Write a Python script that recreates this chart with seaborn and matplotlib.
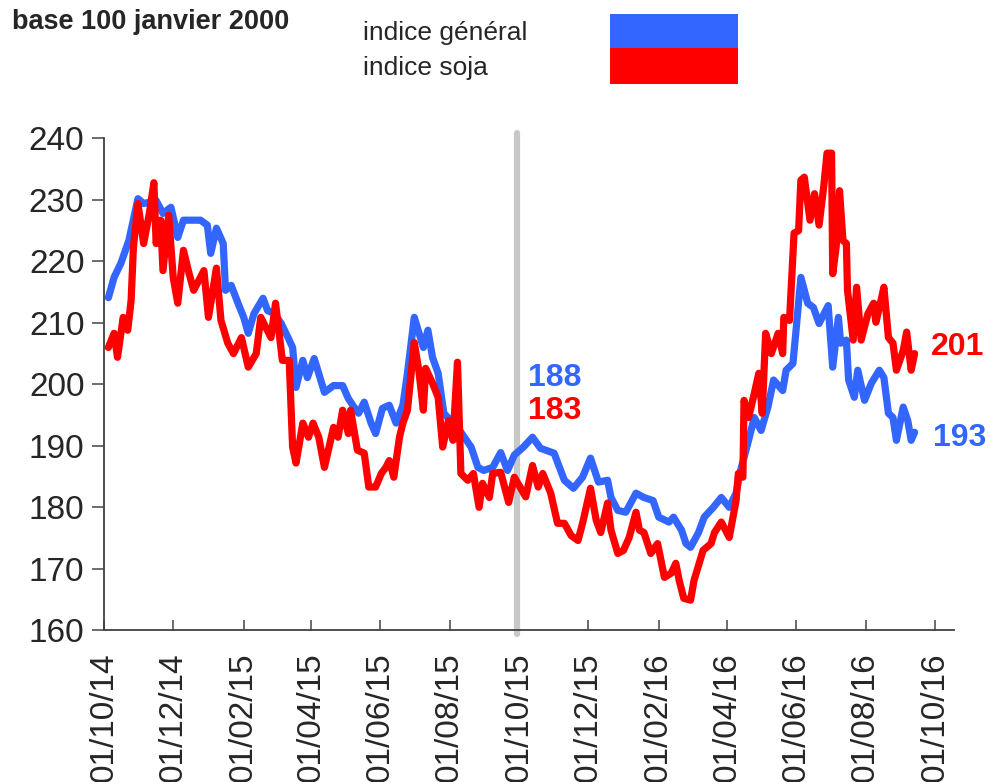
import pandas as pd
import numpy as np
import matplotlib
matplotlib.use("Agg")
import matplotlib.pyplot as plt
import matplotlib.dates as mdates
import seaborn as sns

# Données (jours depuis le 01/10/2014)
debut = "2014-10-01"

jours_general = [4, 9, 15, 22, 30, 35, 46, 52, 59, 65, 70, 85, 91, 94, 99, 105, 107, 112, 118, 123,
                 127, 132, 140, 144, 150, 156, 162, 166, 169, 175, 179, 185, 194, 202, 210, 215, 220, 224, 229, 235,
                 239, 245, 251, 257, 263, 267, 273, 281, 285, 289, 294, 299, 305, 311, 317, 323, 329, 334, 342, 349,
                 355, 361, 369, 377, 384, 396, 405, 413, 421, 428, 435, 443, 446, 452, 459, 468, 475, 483, 488, 497,
                 501, 508, 512, 516, 523, 528, 536, 543, 550, 556, 560, 567, 572, 578, 584, 589, 597, 600, 606, 609,
                 613, 619, 624, 629, 637, 641, 646, 648, 653, 655, 660, 663, 669, 675, 682, 686, 690, 694, 697, 703,
                 707, 710, 713]
indice_general = [214.1, 217.4, 219.7, 223.4, 230.2, 229.4, 229.9, 227.8, 228.8, 223.9, 226.7, 226.7, 225.9, 221.3,
                  225.4, 222.9, 215.3, 216.1, 213.2, 210.9, 208.3, 211.5, 214.0, 212.0, 211.5, 209.9, 207.6, 206.0,
                  199.5, 203.9, 201.1, 204.2, 198.7, 199.8, 199.8, 197.7, 196.3, 195.3, 197.1, 193.7, 192.0, 196.1,
                  196.6, 193.7, 196.6, 201.8, 210.9, 206.0, 208.8, 204.4, 201.8, 195.3, 194.1, 193.0, 191.4, 189.8,
                  186.5, 186.0, 186.5, 188.9, 186.0, 188.5, 189.8, 191.4, 189.6, 188.8, 184.4, 183.1, 184.9, 188.0,
                  184.1, 184.4, 181.6, 179.5, 179.2, 182.3, 181.6, 181.1, 178.4, 177.6, 178.4, 176.3, 174.1, 173.5,
                  175.9, 178.4, 180.0, 181.6, 180.0, 182.3, 186.0, 190.9, 194.6, 192.5, 196.3, 200.7, 199.0, 202.3,
                  203.4, 209.3, 217.4, 213.2, 212.5, 209.9, 212.8, 202.8, 210.9, 206.7, 207.2, 200.7, 197.9, 202.3,
                  197.4, 200.2, 202.3, 201.1, 195.3, 194.6, 190.9, 196.3, 194.1, 190.9, 192.2]

jours_soja = [4, 9, 12, 17, 21, 24, 26, 30, 35, 40, 44, 46, 50, 52, 57, 61, 65, 70, 75, 79,
              88, 92, 99, 103, 109, 114, 121, 127, 134, 138, 147, 151, 157, 163, 166, 169, 175, 180, 184, 189,
              194, 202, 206, 210, 215, 217, 223, 229, 233, 239, 244, 248, 251, 255, 260, 263, 267, 273, 277, 281,
              283, 289, 294, 298, 303, 307, 311, 314, 320, 325, 330, 333, 339, 342, 349, 356, 361, 371, 377, 382,
              386, 393, 399, 405, 411, 417, 421, 428, 433, 437, 443, 446, 452, 457, 462, 468, 471, 475, 481, 487,
              493, 499, 503, 506, 510, 516, 519, 527, 534, 537, 543, 550, 556, 558, 562, 563, 567, 572, 576, 579,
              582, 587, 593, 597, 598, 603, 607, 611, 613, 616, 621, 625, 629, 633, 636, 640, 641, 644, 647, 650,
              653, 654, 659, 662, 666, 672, 677, 679, 684, 686, 690, 694, 697, 703, 706, 710, 713]
indice_soja = [206.0, 208.3, 204.4, 210.9, 208.8, 213.7, 222.3, 229.4, 222.9, 227.8, 232.8, 222.9, 226.7, 218.5,
               227.5, 217.4, 213.2, 221.8, 218.0, 215.3, 218.5, 210.9, 218.9, 210.4, 206.7, 205.0, 207.6, 202.8,
               205.0, 210.9, 207.6, 213.2, 203.9, 203.9, 189.8, 187.2, 193.7, 191.4, 193.7, 191.4, 186.5, 193.0,
               191.4, 195.8, 192.0, 195.8, 189.3, 188.8, 183.3, 183.3, 185.5, 186.5, 187.6, 184.9, 191.4, 193.7,
               195.8, 206.8, 202.3, 195.8, 202.6, 200.2, 197.9, 189.8, 194.1, 190.9, 203.6, 185.5, 184.4, 185.5,
               180.0, 183.9, 181.6, 185.5, 185.7, 180.8, 184.9, 181.7, 186.8, 183.3, 185.5, 182.3, 177.4, 177.4,
               175.4, 174.6, 177.4, 183.1, 177.9, 175.9, 180.7, 176.3, 172.5, 173.0, 175.1, 179.2, 176.3, 175.9,
               172.5, 174.1, 168.6, 169.3, 170.9, 168.1, 165.2, 164.9, 168.1, 173.0, 174.1, 175.9, 177.6, 175.1,
               181.1, 185.5, 184.9, 197.4, 194.6, 198.5, 201.8, 195.3, 208.3, 205.0, 208.3, 205.0, 210.9, 210.4,
               224.6, 225.0, 233.2, 233.7, 226.7, 231.0, 225.9, 232.0, 237.6, 237.6, 218.0, 222.3, 231.5, 223.4,
               222.9, 215.3, 207.2, 215.8, 207.2, 211.5, 213.2, 210.1, 214.1, 215.8, 207.6, 206.7, 202.3, 205.5,
               208.5, 202.3, 205.0]

# valeurs affichées
valeur_oct15 = {"général": "188", "soja": "183"}
valeur_fin = {"général": "193", "soja": "201"}

BLEU = "#3366FF"
ROUGE = "#FF0000"

t0 = pd.Timestamp(debut)
df_gen = pd.DataFrame({"date": t0 + pd.to_timedelta(jours_general, unit="D"), "indice": indice_general})
df_soja = pd.DataFrame({"date": t0 + pd.to_timedelta(jours_soja, unit="D"), "indice": indice_soja})

sns.set_style("ticks")
plt.rcParams["font.family"] = ["Liberation Sans", "DejaVu Sans"]

fig = plt.figure(figsize=(9.89, 7.82), dpi=100)
ax = fig.add_axes([0.105, 0.194, 0.86, 0.629])

sns.lineplot(data=df_gen, x="date", y="indice", color=BLEU, linewidth=5.2, ax=ax, zorder=3)
sns.lineplot(data=df_soja, x="date", y="indice", color=ROUGE, linewidth=5.2, ax=ax, zorder=4)

# ligne verticale octobre 2015
ax.axvline(pd.Timestamp("2015-09-29"), ymin=-0.008, ymax=1.01, color="#C8C8C8", linewidth=4.5, zorder=2, clip_on=False)

ax.set_ylim(160, 240)
ax.set_yticks(range(160, 241, 10))
ax.set_xlim(t0, pd.Timestamp("2016-10-18"))
ax.xaxis.set_major_locator(mdates.MonthLocator(bymonth=[2, 4, 6, 8, 10, 12], bymonthday=1))
ax.xaxis.set_major_formatter(mdates.DateFormatter("%d/%m/%y"))

ax.set_xlabel("")
ax.set_ylabel("")
sns.despine(ax=ax)
for s in ["left", "bottom"]:
    ax.spines[s].set_color("#404040")
    ax.spines[s].set_linewidth(1.3)

ax.tick_params(axis="y", direction="out", length=9, width=1.3, color="#606060", labelsize=24, pad=5)
ax.tick_params(axis="x", direction="in", length=7, width=1.3, color="#606060", labelsize=24, pad=16,
               labelrotation=90)

# étiquettes de valeurs
ax.text(pd.Timestamp("2015-10-09"), 201.0, valeur_oct15["général"], color=BLEU, fontsize=23,
        fontweight="bold", va="center", ha="left")
ax.text(pd.Timestamp("2015-10-09"), 195.6, valeur_oct15["soja"], color=ROUGE, fontsize=23,
        fontweight="bold", va="center", ha="left")
ax.text(pd.Timestamp("2016-09-27"), 206.0, valeur_fin["soja"], color=ROUGE, fontsize=23,
        fontweight="bold", va="center", ha="left", clip_on=False)
ax.text(pd.Timestamp("2016-09-29"), 191.2, valeur_fin["général"], color=BLEU, fontsize=23,
        fontweight="bold", va="center", ha="left", clip_on=False)

# titre et légende
fig.text(0.012, 0.972, "base 100 janvier 2000", fontsize=19.5, fontweight="bold", va="center", ha="left")
fig.text(0.367, 0.958, "indice général", fontsize=19, va="center", ha="left")
fig.text(0.367, 0.913, "indice soja", fontsize=19, va="center", ha="left")
fig.patches.append(plt.Rectangle((0.617, 0.937), 0.129, 0.045, transform=fig.transFigure,
                                 facecolor=BLEU, edgecolor="none"))
fig.patches.append(plt.Rectangle((0.617, 0.893), 0.129, 0.045, transform=fig.transFigure,
                                 facecolor=ROUGE, edgecolor="none"))

fig.savefig("out.png", dpi=100)
